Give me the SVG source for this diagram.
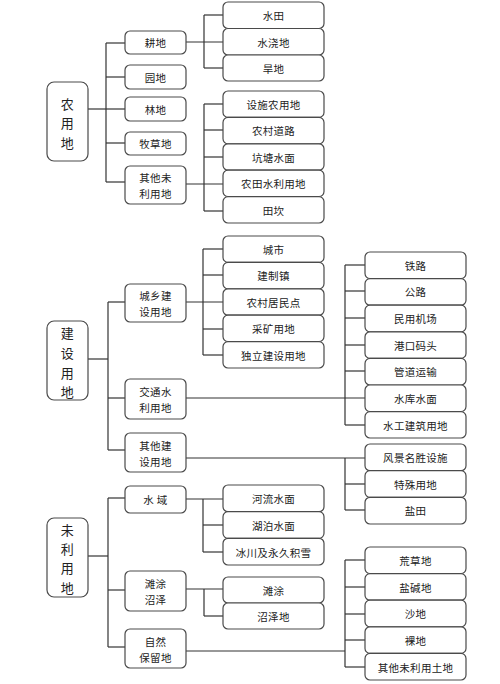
<svg xmlns="http://www.w3.org/2000/svg" width="500" height="684" viewBox="0 0 500 684">
<style>
rect{fill:#fff;stroke:#4a4a4a;stroke-width:1.2}
.c line{stroke:#333;stroke-width:1.2}
text{font-family:"Noto Sans CJK SC","Noto Sans",sans-serif;font-size:10.5px;fill:#222;text-anchor:middle;dominant-baseline:central;letter-spacing:0.3px}
.r text{font-size:13px}
</style>
<rect x="0" y="0" width="500" height="684" style="stroke:none;fill:#fff"/>
<g class="c">
<line x1="88" y1="109" x2="106" y2="109"/><line x1="106" y1="43" x2="106" y2="182"/>
<line x1="106" y1="43" x2="125" y2="43"/><line x1="106" y1="77" x2="125" y2="77"/><line x1="106" y1="109" x2="125" y2="109"/><line x1="106" y1="143" x2="125" y2="143"/><line x1="106" y1="182" x2="125" y2="182"/>
<line x1="186" y1="42" x2="223" y2="42"/><line x1="204" y1="15" x2="204" y2="68"/><line x1="204" y1="15" x2="223" y2="15"/><line x1="204" y1="68" x2="223" y2="68"/>
<line x1="186" y1="184" x2="223" y2="184"/><line x1="204" y1="104" x2="204" y2="211"/><line x1="204" y1="104" x2="223" y2="104"/><line x1="204" y1="130" x2="223" y2="130"/><line x1="204" y1="157" x2="223" y2="157"/><line x1="204" y1="211" x2="223" y2="211"/>
<line x1="88" y1="359" x2="108" y2="359"/><line x1="108" y1="302" x2="108" y2="450"/>
<line x1="108" y1="302" x2="125" y2="302"/><line x1="108" y1="398" x2="125" y2="398"/><line x1="108" y1="450" x2="125" y2="450"/>
<line x1="186" y1="302" x2="223" y2="302"/><line x1="203" y1="249" x2="203" y2="355"/><line x1="203" y1="249" x2="223" y2="249"/><line x1="203" y1="275" x2="223" y2="275"/><line x1="203" y1="329" x2="223" y2="329"/><line x1="203" y1="355" x2="223" y2="355"/>
<line x1="186" y1="398" x2="365" y2="398"/><line x1="345" y1="265" x2="345" y2="425"/><line x1="345" y1="265" x2="365" y2="265"/><line x1="345" y1="291" x2="365" y2="291"/><line x1="345" y1="318" x2="365" y2="318"/><line x1="345" y1="345" x2="365" y2="345"/><line x1="345" y1="371" x2="365" y2="371"/><line x1="345" y1="425" x2="365" y2="425"/>
<line x1="186" y1="458" x2="365" y2="458"/><line x1="345" y1="458" x2="345" y2="510"/><line x1="345" y1="484" x2="365" y2="484"/><line x1="345" y1="510" x2="365" y2="510"/>
<line x1="88" y1="556" x2="108" y2="556"/><line x1="108" y1="498" x2="108" y2="647"/>
<line x1="108" y1="498" x2="125" y2="498"/><line x1="108" y1="590" x2="125" y2="590"/><line x1="108" y1="647" x2="125" y2="647"/>
<line x1="186" y1="499" x2="223" y2="499"/><line x1="203" y1="499" x2="203" y2="552"/><line x1="203" y1="525" x2="223" y2="525"/><line x1="203" y1="552" x2="223" y2="552"/>
<line x1="186" y1="589" x2="223" y2="589"/><line x1="204" y1="589" x2="204" y2="616"/><line x1="204" y1="616" x2="223" y2="616"/>
<line x1="186" y1="651" x2="345" y2="651"/><line x1="345" y1="560" x2="345" y2="667"/><line x1="345" y1="560" x2="365" y2="560"/><line x1="345" y1="587" x2="365" y2="587"/><line x1="345" y1="614" x2="365" y2="614"/><line x1="345" y1="640" x2="365" y2="640"/><line x1="345" y1="667" x2="365" y2="667"/>
</g>
<g id="r1" class="r"><rect x="47" y="82" width="41" height="79" rx="7"/><text x="67.5" y="103">农</text><text x="67.5" y="122">用</text><text x="67.5" y="142">地</text></g>
<g id="r2" class="r"><rect x="47" y="321" width="41" height="79" rx="7"/><text x="67.5" y="332">建</text><text x="67.5" y="352">设</text><text x="67.5" y="372">用</text><text x="67.5" y="391">地</text></g>
<g id="r3" class="r"><rect x="47" y="518" width="41" height="79" rx="7"/><text x="67.5" y="529">未</text><text x="67.5" y="548">利</text><text x="67.5" y="567">用</text><text x="67.5" y="587">地</text></g>
<g id="gengdi"><rect x="125" y="31" width="61" height="23" rx="5"/><text x="155.5" y="42.5">耕地</text></g>
<g id="yuandi"><rect x="125" y="65" width="61" height="24" rx="5"/><text x="155.5" y="77">园地</text></g>
<g id="lindi"><rect x="125" y="97" width="61" height="24" rx="5"/><text x="155.5" y="109">林地</text></g>
<g id="mucaodi"><rect x="125" y="132" width="61" height="23" rx="5"/><text x="155.5" y="143.5">牧草地</text></g>
<g id="qitanong"><rect x="125" y="166" width="61" height="38" rx="5"/><text x="155.5" y="177">其他未</text><text x="155.5" y="193">利用地</text></g>
<g id="shuitian"><rect x="223" y="2" width="101" height="26.5" rx="5"/><text x="273.5" y="15">水田</text></g>
<g id="shuijiaodi"><rect x="223" y="28.5" width="101" height="26.5" rx="5"/><text x="273.5" y="42">水浇地</text></g>
<g id="handi"><rect x="223" y="55" width="101" height="26" rx="5"/><text x="273.5" y="68">旱地</text></g>
<g id="sheshi"><rect x="223" y="91" width="101" height="26.4" rx="5"/><text x="273.5" y="104">设施农用地</text></g>
<g id="daolu"><rect x="223" y="117.4" width="101" height="26.4" rx="5"/><text x="273.5" y="130.5">农村道路</text></g>
<g id="kengtang"><rect x="223" y="143.8" width="101" height="26.4" rx="5"/><text x="273.5" y="157">坑塘水面</text></g>
<g id="nongtian"><rect x="223" y="170.2" width="101" height="26.4" rx="5"/><text x="273.5" y="183.5">农田水利用地</text></g>
<g id="tiankan"><rect x="223" y="196.6" width="101" height="26.4" rx="5"/><text x="273.5" y="210">田坎</text></g>
<g id="chengxiang"><rect x="125" y="284" width="61" height="38" rx="5"/><text x="155.5" y="295">城乡建</text><text x="155.5" y="311">设用地</text></g>
<g id="jiaotong"><rect x="125" y="379" width="61" height="40" rx="5"/><text x="155.5" y="391">交通水</text><text x="155.5" y="407">利用地</text></g>
<g id="qitajian"><rect x="125" y="433" width="61" height="39" rx="5"/><text x="155.5" y="445">其他建</text><text x="155.5" y="461">设用地</text></g>
<g id="chengshi"><rect x="223" y="236" width="101" height="26.4" rx="5"/><text x="273.5" y="249">城市</text></g>
<g id="jianzhizhen"><rect x="223" y="262.4" width="101" height="26.4" rx="5"/><text x="273.5" y="275.5">建制镇</text></g>
<g id="jumindian"><rect x="223" y="288.8" width="101" height="26.4" rx="5"/><text x="273.5" y="302">农村居民点</text></g>
<g id="caikuang"><rect x="223" y="315.2" width="101" height="26.4" rx="5"/><text x="273.5" y="328.5">采矿用地</text></g>
<g id="duli"><rect x="223" y="341.6" width="101" height="26.4" rx="5"/><text x="273.5" y="355">独立建设用地</text></g>
<g id="tielu"><rect x="365" y="252" width="101" height="26.6" rx="5"/><text x="415.5" y="265">铁路</text></g>
<g id="gonglu"><rect x="365" y="278.6" width="101" height="26.6" rx="5"/><text x="415.5" y="291.5">公路</text></g>
<g id="jichang"><rect x="365" y="305.2" width="101" height="26.6" rx="5"/><text x="415.5" y="318.5">民用机场</text></g>
<g id="gangkou"><rect x="365" y="331.8" width="101" height="26.6" rx="5"/><text x="415.5" y="345">港口码头</text></g>
<g id="guandao"><rect x="365" y="358.4" width="101" height="26.6" rx="5"/><text x="415.5" y="371.5">管道运输</text></g>
<g id="shuiku"><rect x="365" y="385" width="101" height="26.6" rx="5"/><text x="415.5" y="398">水库水面</text></g>
<g id="shuigong"><rect x="365" y="411.6" width="101" height="26.4" rx="5"/><text x="415.5" y="425">水工建筑用地</text></g>
<g id="fengjing"><rect x="365" y="444" width="101" height="26.7" rx="5"/><text x="415.5" y="457.5">风景名胜设施</text></g>
<g id="teshu"><rect x="365" y="470.7" width="101" height="26.6" rx="5"/><text x="415.5" y="484">特殊用地</text></g>
<g id="yantian"><rect x="365" y="497.3" width="101" height="26.7" rx="5"/><text x="415.5" y="510.5">盐田</text></g>
<g id="shuiyu"><rect x="125" y="486" width="61" height="27" rx="5"/><text x="155.5" y="499.5">水 域</text></g>
<g id="tantu"><rect x="125" y="571" width="61" height="40" rx="5"/><text x="155.5" y="583">滩涂</text><text x="155.5" y="599">沼泽</text></g>
<g id="ziran"><rect x="125" y="629" width="61" height="39" rx="5"/><text x="155.5" y="641">自然</text><text x="155.5" y="657">保留地</text></g>
<g id="heliu"><rect x="223" y="485" width="101" height="26.7" rx="5"/><text x="273.5" y="498.5">河流水面</text></g>
<g id="hupo"><rect x="223" y="511.7" width="101" height="26.6" rx="5"/><text x="273.5" y="525">湖泊水面</text></g>
<g id="bingchuan"><rect x="223" y="538.3" width="101" height="26.7" rx="5"/><text x="273.5" y="552">冰川及永久积雪</text></g>
<g id="tantu2"><rect x="223" y="577" width="101" height="26" rx="5"/><text x="273.5" y="590">滩涂</text></g>
<g id="zhaozedi"><rect x="223" y="603" width="101" height="26" rx="5"/><text x="273.5" y="616">沼泽地</text></g>
<g id="huangcao"><rect x="365" y="547" width="101" height="26.6" rx="5"/><text x="415.5" y="560">荒草地</text></g>
<g id="yanjian"><rect x="365" y="573.6" width="101" height="26.6" rx="5"/><text x="415.5" y="587">盐碱地</text></g>
<g id="shadi"><rect x="365" y="600.2" width="101" height="26.6" rx="5"/><text x="415.5" y="613.5">沙地</text></g>
<g id="ludi"><rect x="365" y="626.8" width="101" height="26.6" rx="5"/><text x="415.5" y="640">裸地</text></g>
<g id="qitatudi"><rect x="365" y="653.4" width="101" height="26.6" rx="5"/><text x="415.5" y="667">其他未利用土地</text></g>
</svg>
